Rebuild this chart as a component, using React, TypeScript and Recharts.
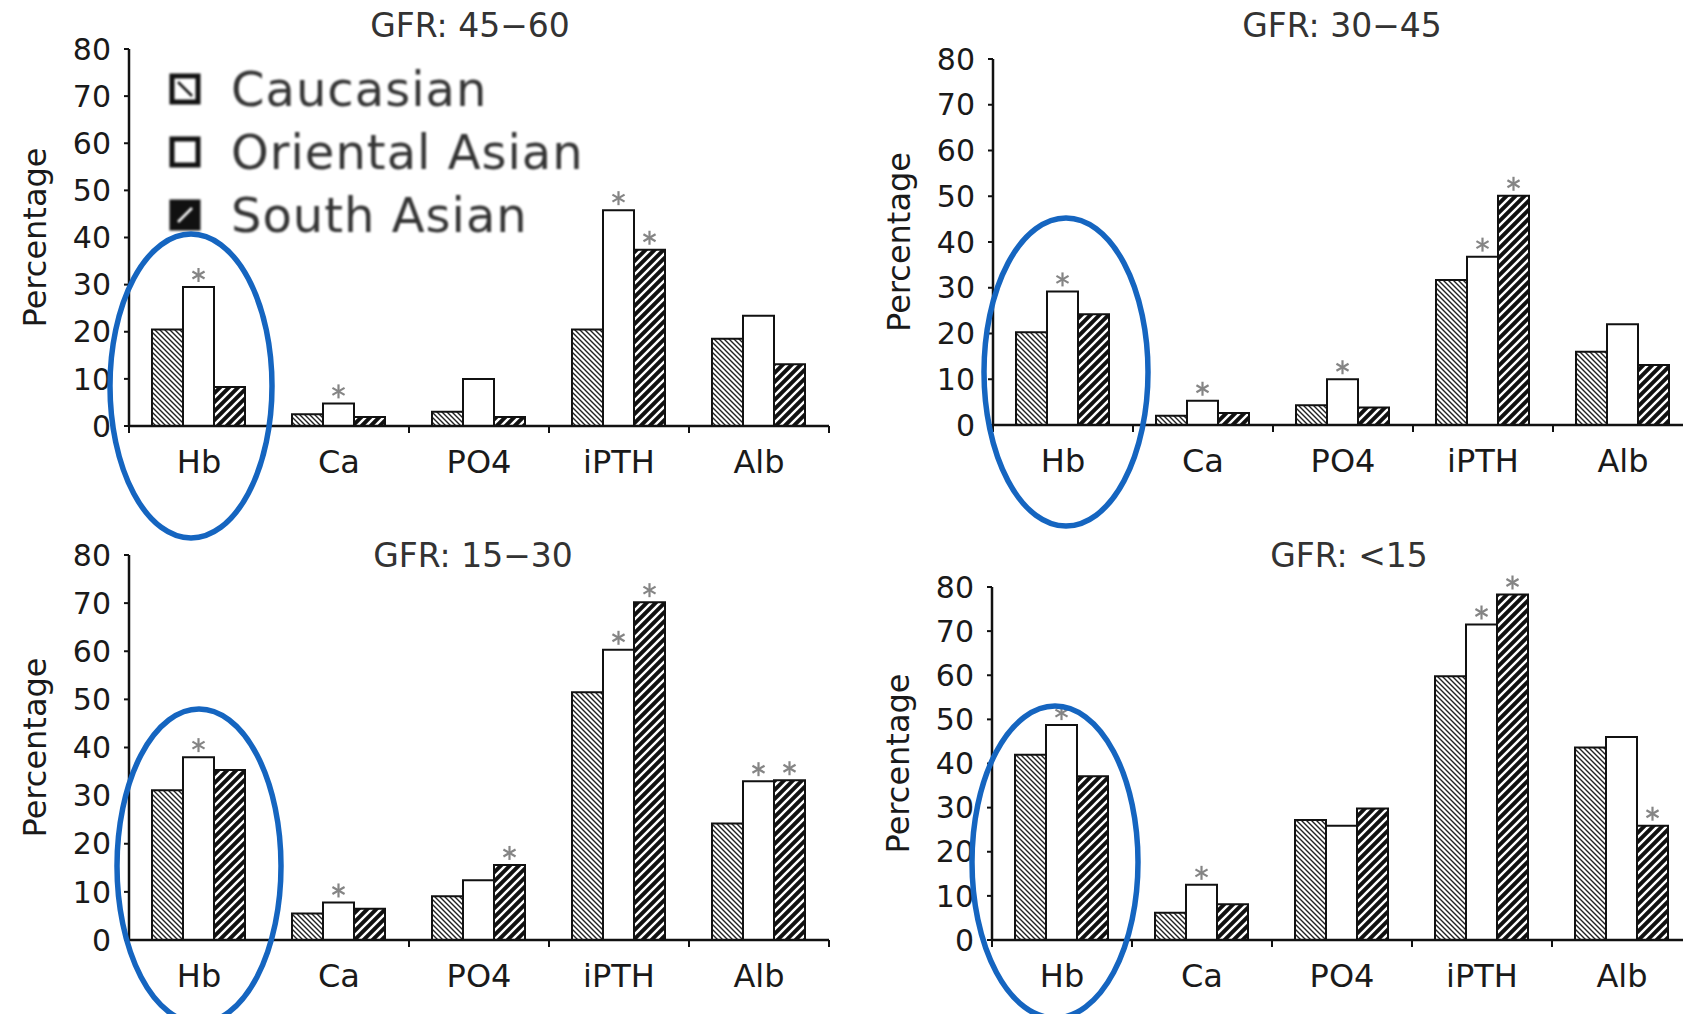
import React from 'react'
import { Bar, BarChart, LabelList, Legend, XAxis, YAxis } from 'recharts'

const categories = ['Hb', 'Ca', 'PO4', 'iPTH', 'Alb']
const seriesNames = ['Caucasian', 'Oriental Asian', 'South Asian']
const yTicks = [0, 10, 20, 30, 40, 50, 60, 70, 80]
const panelTitles = ['GFR: 45\u221260', 'GFR: 30\u221245', 'GFR: 15\u221230', 'GFR: <15']

// GFR 45-60
const caucasian4560 = [20.5, 2.5, 3, 20.5, 18.5]
const oriental4560 = [29.5, 4.8, 10, 45.8, 23.4]
const south4560 = [8.3, 1.9, 1.9, 37.4, 13.1]
const orientalStar4560 = [1, 1, 0, 1, 0]
const southStar4560 = [0, 0, 0, 1, 0]

// GFR 30-45
const caucasian3045 = [20.3, 2, 4.3, 31.7, 16]
const oriental3045 = [29.2, 5.3, 10, 36.8, 22]
const south3045 = [24.2, 2.6, 3.8, 50.1, 13.1]
const orientalStar3045 = [1, 1, 1, 1, 0]
const southStar3045 = [0, 0, 0, 1, 0]

// GFR 15-30
const caucasian1530 = [31.1, 5.5, 9.1, 51.5, 24.2]
const oriental1530 = [38, 7.8, 12.4, 60.3, 33]
const south1530 = [35.3, 6.5, 15.6, 70.2, 33.2]
const orientalStar1530 = [1, 1, 0, 1, 1]
const southStar1530 = [0, 0, 1, 1, 1]

// GFR <15
const caucasian15 = [42, 6.2, 27.2, 59.8, 43.6]
const oriental15 = [48.7, 12.5, 25.9, 71.5, 46]
const south15 = [37.1, 8.1, 29.8, 78.3, 25.9]
const orientalStar15 = [1, 1, 0, 1, 0]
const southStar15 = [0, 0, 0, 1, 1]

const FONT = '"DejaVu Sans", sans-serif'
const INK = '#1a1a1a'
const RING = '#1565c0'
const LABEL_GAP = 24

function buildRows(c: number[], o: number[], s: number[], oStar: number[], sStar: number[]) {
  return categories.map((name, i) => ({
    name,
    caucasian: c[i],
    oriental: o[i],
    south: s[i],
    orientalStar: oStar[i],
    southStar: sStar[i],
  }))
}

function Star(props: any) {
  const { x, y, width, value } = props
  if (!value) return null
  const cx = Number(x) + Number(width) / 2
  const cy = Number(y) - 12
  const r = 7
  return (
    <g stroke="#858585" strokeWidth={2.2}>
      {[90, 30, 150].map((a) => {
        const dx = Math.cos((a * Math.PI) / 180) * r
        const dy = Math.sin((a * Math.PI) / 180) * r
        return <line key={a} x1={cx - dx} y1={cy - dy} x2={cx + dx} y2={cy + dy} />
      })}
    </g>
  )
}

// category label plus a small tick at the band boundaries
function CategoryTick(props: any) {
  const { x, y, payload, width, visibleTicksCount } = props
  const half = Number(width) / (2 * (visibleTicksCount || categories.length))
  const axisY = y - LABEL_GAP
  return (
    <g>
      <line x1={x - half} y1={axisY} x2={x - half} y2={axisY + 7} stroke="#111" strokeWidth={2} />
      {payload.index === categories.length - 1 && (
        <line x1={x + half} y1={axisY} x2={x + half} y2={axisY + 7} stroke="#111" strokeWidth={2} />
      )}
      <text x={x} y={y} dy="0.71em" textAnchor="middle" fontSize={32} fontFamily={FONT} fill={INK}>
        {payload.value}
      </text>
    </g>
  )
}

function AxisTitle(props: any) {
  const vb = props.viewBox || {}
  const x = vb.x + vb.width - 94
  const y = vb.y + vb.height / 2
  return (
    <text x={x} y={y} transform={`rotate(-90, ${x}, ${y})`} textAnchor="middle" dominantBaseline="central"
      fontSize={32} fontFamily={FONT} fill={INK}>
      Percentage
    </text>
  )
}

function LegendIcon({ kind }: { kind: number }) {
  return (
    <svg width={32} height={32} style={{ marginRight: 30 }}>
      <rect x={3} y={3} width={26} height={26} fill={kind === 2 ? '#111' : '#fff'} stroke="#111" strokeWidth={5} />
      {kind === 0 && <line x1={9} y1={9} x2={23} y2={23} stroke="#111" strokeWidth={2.5} />}
      {kind === 2 && <line x1={9} y1={23} x2={23} y2={9} stroke="#fff" strokeWidth={2.5} />}
    </svg>
  )
}

function LegendBox() {
  return (
    <div style={{ filter: 'blur(0.8px)' }}>
      {seriesNames.map((n, i) => (
        <div key={n} style={{ display: 'flex', alignItems: 'center', height: 63 }}>
          <LegendIcon kind={i} />
          <span style={{ fontFamily: FONT, fontSize: 48, color: '#333', letterSpacing: 1, whiteSpace: 'nowrap' }}>{n}</span>
        </div>
      ))}
    </div>
  )
}

type PanelProps = {
  id: string
  rows: ReturnType<typeof buildRows>
  left: number
  top: number
  plotLeft: number
  plotTop: number
  plotBottom: number
  height: number
  showLegend?: boolean
}

function Panel({ id, rows, left, top, plotLeft, plotTop, plotBottom, height, showLegend }: PanelProps) {
  const width = plotLeft - left + 700 + 10
  return (
    <div style={{ position: 'absolute', left, top }}>
      <BarChart
        width={width}
        height={height}
        data={rows}
        margin={{ top: plotTop - top, right: 10, bottom: 0, left: 0 }}
        barGap={0}
        barCategoryGap={23}
      >
        <defs>
          <pattern id={`cauc-${id}`} patternUnits="userSpaceOnUse" width={5} height={5}>
            <rect width={5} height={5} fill="#fff" />
            <path d="M0,0 L5,5 M-2.5,2.5 L2.5,7.5 M2.5,-2.5 L7.5,2.5" stroke="#222" strokeWidth={1.4} />
          </pattern>
          <pattern id={`south-${id}`} patternUnits="userSpaceOnUse" width={9} height={9}>
            <rect width={9} height={9} fill="#111" />
            <path d="M0,9 L9,0 M-4.5,4.5 L4.5,-4.5 M4.5,13.5 L13.5,4.5" stroke="#fff" strokeWidth={2.4} />
          </pattern>
        </defs>
        <XAxis
          dataKey="name"
          height={top + height - plotBottom}
          axisLine={{ stroke: '#111', strokeWidth: 2.5 }}
          tickLine={false}
          tickSize={0}
          tickMargin={LABEL_GAP}
          interval={0}
          tick={<CategoryTick />}
        />
        <YAxis
          type="number"
          domain={[0, 80]}
          ticks={yTicks}
          interval={0}
          width={plotLeft - left}
          axisLine={{ stroke: '#111', strokeWidth: 2.5 }}
          tickLine={{ stroke: '#111', strokeWidth: 2 }}
          tickSize={5}
          tickMargin={13}
          tick={{ fontSize: 30, fill: INK, fontFamily: FONT }}
          label={<AxisTitle />}
        />
        {showLegend && (
          <Legend
            layout="vertical"
            align="center"
            verticalAlign="middle"
            wrapperStyle={{ left: 169, top: 57, width: 430 }}
            content={() => <LegendBox />}
          />
        )}
        <Bar dataKey="caucasian" name={seriesNames[0]} fill={`url(#cauc-${id})`} stroke="#111" strokeWidth={2} isAnimationActive={false} />
        <Bar dataKey="oriental" name={seriesNames[1]} fill="#fff" stroke="#111" strokeWidth={2} isAnimationActive={false}>
          <LabelList dataKey="orientalStar" content={<Star />} />
        </Bar>
        <Bar dataKey="south" name={seriesNames[2]} fill={`url(#south-${id})`} stroke="#111" strokeWidth={2} isAnimationActive={false}>
          <LabelList dataKey="southStar" content={<Star />} />
        </Bar>
      </BarChart>
    </div>
  )
}

const titleSpots = [
  { x: 470, y: 37 },
  { x: 1342, y: 37 },
  { x: 473, y: 567 },
  { x: 1349, y: 567 },
]

const rings = [
  { cx: 191, cy: 386, rx: 81, ry: 152 },
  { cx: 1066, cy: 372, rx: 82, ry: 154 },
  { cx: 199, cy: 866, rx: 82, ry: 157 },
  { cx: 1055, cy: 862, rx: 83, ry: 156 },
]

export default function App() {
  return (
    <div style={{ position: 'fixed', left: 0, top: 0, width: 1683, height: 1014, overflow: 'hidden', background: '#fff' }}>
      <Panel id="a" rows={buildRows(caucasian4560, oriental4560, south4560, orientalStar4560, southStar4560)}
        left={0} top={0} plotLeft={129} plotTop={49} plotBottom={426} height={507} showLegend />
      <Panel id="b" rows={buildRows(caucasian3045, oriental3045, south3045, orientalStar3045, southStar3045)}
        left={843} top={0} plotLeft={993} plotTop={59} plotBottom={425} height={507} />
      <Panel id="c" rows={buildRows(caucasian1530, oriental1530, south1530, orientalStar1530, southStar1530)}
        left={0} top={507} plotLeft={129} plotTop={555} plotBottom={940} height={507} />
      <Panel id="d" rows={buildRows(caucasian15, oriental15, south15, orientalStar15, southStar15)}
        left={843} top={507} plotLeft={992} plotTop={587} plotBottom={940} height={507} />
      <svg width={1683} height={1014} style={{ position: 'absolute', left: 0, top: 0, pointerEvents: 'none' }}>
        {panelTitles.map((t, i) => (
          <text key={t} x={titleSpots[i].x} y={titleSpots[i].y} textAnchor="middle" fontSize={33} fontFamily={FONT} fill="#333">
            {t}
          </text>
        ))}
        {rings.map((r, i) => (
          <ellipse key={i} cx={r.cx} cy={r.cy} rx={r.rx} ry={r.ry} fill="none" stroke={RING} strokeWidth={5.5} />
        ))}
      </svg>
    </div>
  )
}
